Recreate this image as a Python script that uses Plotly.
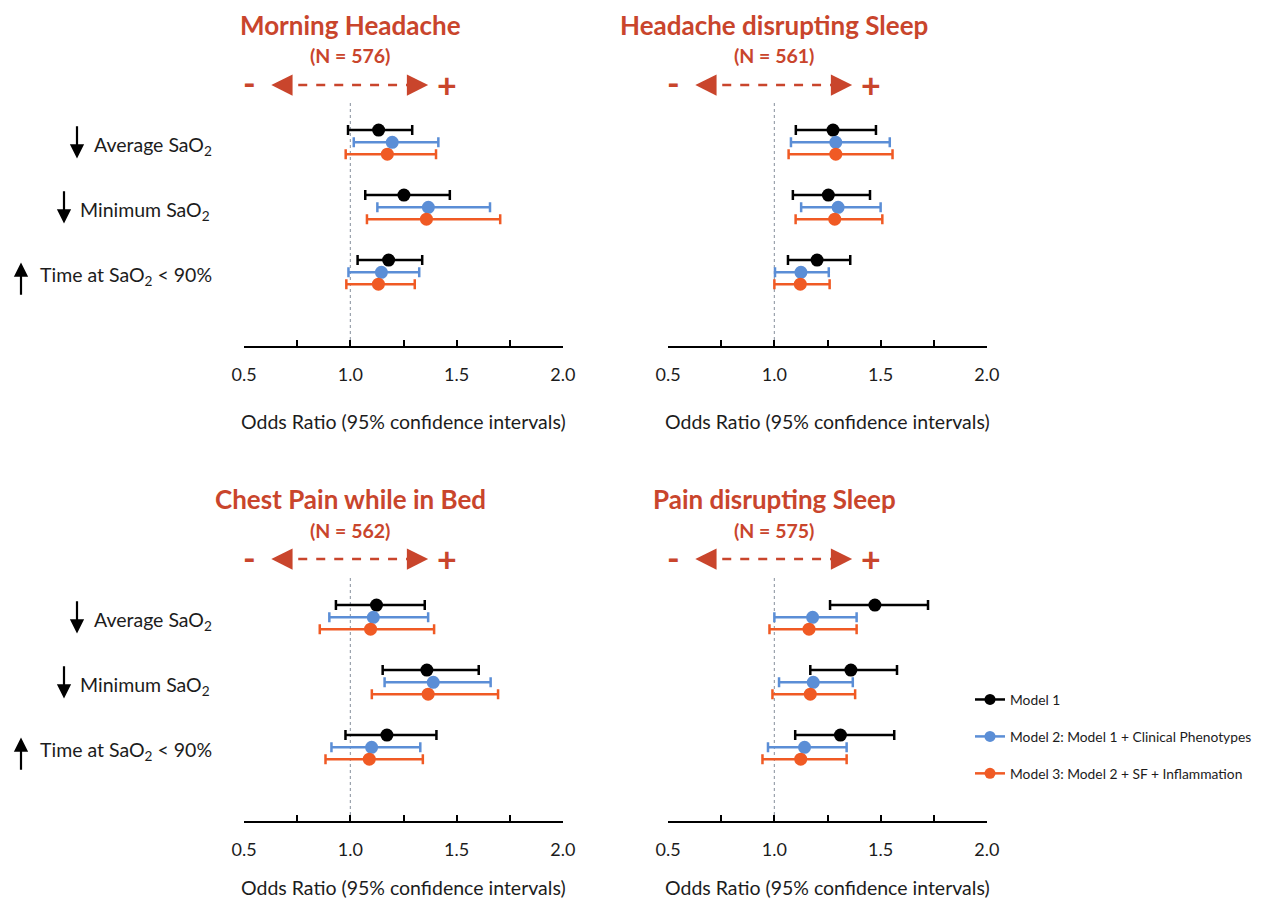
import plotly.graph_objects as go

# ---------------- data ----------------
outcomes = ["Average SaO<sub>2</sub>", "Minimum SaO<sub>2</sub>", "Time at SaO<sub>2</sub> &lt; 90%"]
outcome_dir = ["down", "down", "up"]
models = ["Model 1", "Model 2: Model 1 + Clinical Phenotypes", "Model 3: Model 2 + SF + Inflammation"]
model_colors = ["#000000", "#5B8ED6", "#F05A24"]
panel_titles = ["Morning Headache", "Headache disrupting Sleep", "Chest Pain while in Bed", "Pain disrupting Sleep"]
panel_n = ["(N = 576)", "(N = 561)", "(N = 562)", "(N = 575)"]
tick_vals = [0.5, 1.0, 1.5, 2.0]
tick_labels = ["0.5", "1.0", "1.5", "2.0"]
minor_vals = [0.75, 1.25, 1.75]
x_title = "Odds Ratio (95% confidence intervals)"

# rows: models (M1, M2, M3); columns: outcomes (Average, Minimum, Time<90%)
mh_or = [[1.133, 1.252, 1.180], [1.197, 1.367, 1.146], [1.174, 1.358, 1.132]]
mh_lo = [[0.989, 1.070, 1.034], [1.016, 1.127, 0.991], [0.978, 1.078, 0.981]]
mh_hi = [[1.291, 1.468, 1.338], [1.414, 1.657, 1.324], [1.403, 1.705, 1.303]]

hs_or = [[1.276, 1.254, 1.201], [1.289, 1.300, 1.125], [1.289, 1.284, 1.122]]
hs_lo = [[1.101, 1.087, 1.064], [1.078, 1.126, 1.003], [1.067, 1.100, 1.000]]
hs_hi = [[1.478, 1.450, 1.357], [1.543, 1.500, 1.256], [1.556, 1.508, 1.260]]

cp_or = [[1.123, 1.360, 1.172], [1.108, 1.390, 1.100], [1.095, 1.366, 1.089]]
cp_lo = [[0.932, 1.152, 0.977], [0.901, 1.161, 0.911], [0.856, 1.101, 0.883]]
cp_hi = [[1.350, 1.604, 1.405], [1.366, 1.660, 1.329], [1.394, 1.695, 1.341]]

ps_or = [[1.473, 1.360, 1.311], [1.180, 1.183, 1.142], [1.163, 1.169, 1.124]]
ps_lo = [[1.262, 1.169, 1.098], [1.000, 1.022, 0.970], [0.977, 0.991, 0.944]]
ps_hi = [[1.723, 1.577, 1.564], [1.387, 1.369, 1.340], [1.387, 1.380, 1.340]]

# ---------------- layout helpers ----------------
PAGE_OFF = 8  # the page body margin places the figure at (8, 8)
W, H = 1269 - PAGE_OFF, 901 - PAGE_OFF
RED = "#C9452C"
TXT = "#1c1c1c"
FONT = "Lato"


def pyp(p):
    return 1 - (p - PAGE_OFF) / H


def pxp(p):
    return (p - PAGE_OFF) / W


model_offset = [-0.188, 0.0, 0.183]
y_range = [3.134, -0.605]

panel_data = [(mh_or, mh_lo, mh_hi), (hs_or, hs_lo, hs_hi), (cp_or, cp_lo, cp_hi), (ps_or, ps_lo, ps_hi)]
x_domains = [[pxp(244), pxp(563)], [pxp(668), pxp(987)], [pxp(244), pxp(563)], [pxp(668), pxp(987)]]
y_domains = [[pyp(346), pyp(103)], [pyp(346), pyp(103)], [pyp(821), pyp(578)], [pyp(821), pyp(578)]]
top_px = [0, 0, 474, 474]      # vertical shift of header block for each panel
xtitle_px = [421, 421, 887, 887]

fig = go.Figure()
annotations = []
shapes = []

for k in range(4):
    sfx = "" if k == 0 else str(k + 1)
    xa, ya = "x" + sfx, "y" + sfx
    p_or, p_lo, p_hi = panel_data[k]
    for m in range(3):
        ys = [g + model_offset[m] for g in range(3)]
        fig.add_trace(go.Scatter(
            x=p_or[m], y=ys, mode="markers", xaxis=xa, yaxis=ya,
            marker=dict(color=model_colors[m], size=13),
            error_x=dict(type="data", symmetric=False,
                         array=[h - o for h, o in zip(p_hi[m], p_or[m])],
                         arrayminus=[o - l for o, l in zip(p_or[m], p_lo[m])],
                         color=model_colors[m], thickness=2.5, width=5),
            showlegend=False, cliponaxis=False, hoverinfo="x"))

    xcfg = dict(domain=x_domains[k], anchor=ya, range=[0.4995, 2.0005], automargin=False,
                showline=True, linecolor="black", linewidth=2,
                ticks="inside", ticklen=6, tickwidth=2, tickcolor="black",
                tickmode="array", tickvals=tick_vals, ticktext=tick_labels,
                tickfont=dict(family=FONT, size=18, color=TXT),
                ticklabelstandoff=11,
                minor=dict(tickmode="array", tickvals=minor_vals, ticks="inside",
                           ticklen=6, tickwidth=2, tickcolor="black", showgrid=False),
                showgrid=False, zeroline=False)
    ycfg = dict(domain=y_domains[k], anchor=xa, range=y_range, visible=False, automargin=False,
                showgrid=False, zeroline=False)
    fig.update_layout(**{"xaxis" + sfx: xcfg, "yaxis" + sfx: ycfg})

    # reference line at OR = 1
    shapes.append(dict(type="line", xref=xa, yref=ya + " domain", x0=1, x1=1, y0=0, y1=1,
                       line=dict(color="#9AA2AC", width=1.2, dash="dot"), layer="below"))

    off = top_px[k]
    # titles
    annotations.append(dict(xref=xa, yref="paper", x=1.0, y=pyp(25 + off), text="<b>%s</b>" % panel_titles[k],
                            xanchor="center", yanchor="middle",
                            showarrow=False, font=dict(family=FONT, size=26, color=RED)))
    annotations.append(dict(xref=xa, yref="paper", x=1.0, y=pyp(56 + off), text="<b>%s</b>" % panel_n[k],
                            xanchor="center", yanchor="middle",
                            showarrow=False, font=dict(family=FONT, size=19.5, color=RED)))
    # - <---- ----> +
    ay_px = 85 + off
    annotations.append(dict(xref=xa, yref="paper", x=0.525, y=pyp(ay_px - 2), text="<b>-</b>",
                            xanchor="center", yanchor="middle",
                            showarrow=False, font=dict(family=FONT, size=34, color=RED)))
    annotations.append(dict(xref=xa, yref="paper", x=1.455, y=pyp(ay_px - 1), text="<b>+</b>",
                            xanchor="center", yanchor="middle",
                            showarrow=False, font=dict(family=FONT, size=34, color=RED)))
    shapes.append(dict(type="line", xref=xa, yref="paper", x0=0.67, x1=0.975, y0=pyp(ay_px), y1=pyp(ay_px),
                       line=dict(color=RED, width=2.5, dash="dash")))
    shapes.append(dict(type="line", xref=xa, yref="paper", x0=1.008, x1=1.32, y0=pyp(ay_px), y1=pyp(ay_px),
                       line=dict(color=RED, width=2.5, dash="dash")))
    annotations.append(dict(xref=xa, yref="paper", x=0.628, y=pyp(ay_px), ax=18, ay=0, text="",
                            showarrow=True, arrowhead=2, arrowsize=1.7, arrowwidth=2.5, arrowcolor=RED))
    annotations.append(dict(xref=xa, yref="paper", x=1.366, y=pyp(ay_px), ax=-18, ay=0, text="",
                            showarrow=True, arrowhead=2, arrowsize=1.7, arrowwidth=2.5, arrowcolor=RED))

    # x axis title
    annotations.append(dict(xref=xa + " domain", yref="paper", x=0.5, y=pyp(xtitle_px[k]), text=x_title,
                            xanchor="center", yanchor="middle",
                            showarrow=False, font=dict(family=FONT, size=19.5, color=TXT)))

# row labels on the left panels
label_x = [92, 78, 38]
arrow_x = [77, 64, 21]
for ya in ["y", "y3"]:
    for g in range(3):
        annotations.append(dict(xref="paper", yref=ya, x=pxp(label_x[g]), y=g + 0.06,
                                xanchor="left", yanchor="middle",
                                text=outcomes[g], showarrow=False,
                                font=dict(family=FONT, size=19.5, color=TXT)))
        if outcome_dir[g] == "down":
            tip, tail = g + 0.25, g - 0.27
        else:
            tip, tail = g - 0.15, g + 0.37
        annotations.append(dict(xref="paper", yref=ya, x=pxp(arrow_x[g]), y=tip,
                                axref="pixel", ax=0, ayref=ya, ay=tail, text="",
                                showarrow=True, arrowhead=2, arrowsize=1.3, arrowwidth=2.2,
                                arrowcolor="black"))

# legend entries
for m in range(3):
    fig.add_trace(go.Scatter(x=[None], y=[None], mode="lines+markers", name=models[m],
                             legendgroup=models[m],
                             line=dict(color=model_colors[m], width=2.5),
                             marker=dict(color=model_colors[m], size=11)))

fig.update_layout(
    template="none",
    width=W, height=H,
    margin=dict(l=0, r=0, t=0, b=0, pad=0, autoexpand=False),
    paper_bgcolor="white", plot_bgcolor="white",
    font=dict(family=FONT, color=TXT),
    annotations=annotations, shapes=shapes,
    legend=dict(x=pxp(970), y=pyp(684), xanchor="left", yanchor="top",
                font=dict(family=FONT, size=13.8, color=TXT), tracegroupgap=16,
                bgcolor="rgba(0,0,0,0)", borderwidth=0, itemwidth=30),
)

fig.write_html("out.html")
